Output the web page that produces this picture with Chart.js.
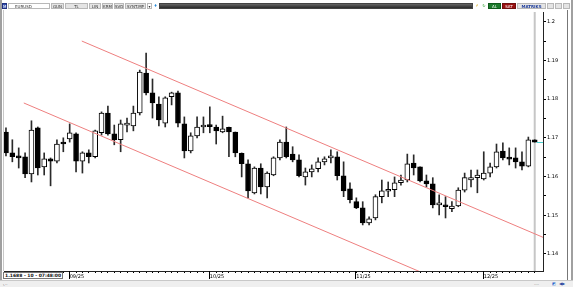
<!DOCTYPE html>
<html>
<head>
<meta charset="utf-8">
<script src="https://cdn.jsdelivr.net/npm/chart.js@4.4.1/dist/chart.umd.min.js"></script>
<style>
  html, body { margin: 0; padding: 0; }
  body { width: 573px; height: 287px; position: relative; overflow: hidden; background: #fff; font-family: 'DejaVu Sans', sans-serif; }
  #chart { position: absolute; left: 0; top: 0; }
  .frame { position: absolute; background: #a0a0a0; }
  #toolbar { position: absolute; left: 2px; top: 3px; width: 569px; height: 6px; display: flex; align-items: stretch; font-size: 4px; line-height: 6px; color: #333; }
  #toolbar div { box-sizing: border-box; border: 1px solid #b8b8b8; background: #e4e4e4; text-align: center; margin-right: 1px; }
  #toolbar .dark { flex: 1; background: linear-gradient(#666, #2a2a2a); border-color: #444; }
  #info { position: absolute; left: 3px; top: 272px; width: 60px; height: 7px; box-sizing: border-box; border: 1px solid #777; background: #fff; font-size: 4.5px; font-weight: bold; line-height: 5px; padding-left: 1px; color: #111; }
  #status { position: absolute; left: 0; top: 280px; width: 573px; height: 7px; background: #efefef; border-top: 1px solid #c8c8c8; box-sizing: border-box; font-size: 4px; line-height: 5px; color: #555; }
  #status span { position: absolute; top: 0; }
</style>
</head>
<body>
<canvas id="chart" width="573" height="287"></canvas>
<div id="toolbar">
  <div style="width:5px;background:#3050b0;border-color:#203080;color:#fff">M</div>
  <div style="width:42px;text-align:left;padding-left:6px;background:#fff">EURUSD</div>
  <div style="width:13px">GUN</div>
  <div style="width:23px">TL</div>
  <div style="width:12px">LIN</div>
  <div style="width:11px">KRM</div>
  <div style="width:10px">SVD</div>
  <div style="width:21px">SYNT.MP</div>
  <div style="width:5px;background:#fff">▾</div>
  <div style="width:5px;background:#fff;color:#2a8ad8;border:none">♦</div>
  <div class="dark"></div>
  <div style="width:6px;color:#d0a000;background:#fff;border:none">⚡</div>
  <div style="width:6px;color:#30a030;background:#fff;border:none">↻</div>
  <div style="width:13px;background:#1c7a2c;color:#fff;border-color:#0f5a1c">AL</div>
  <div style="width:14px;background:#9a1010;color:#fff;border-color:#701010">SAT</div>
  <div style="width:29px;color:#1a3a9a;font-weight:bold">MATRIKS</div>
  <div style="width:7px"></div>
  <div style="width:7px"></div>
  <div style="width:7px"></div>
</div>
<div class="frame" style="left:0;top:0;width:2px;height:287px"></div>
<div class="frame" style="left:571px;top:0;width:2px;height:287px"></div>
<div class="frame" style="left:3px;top:10px;width:1px;height:261px;background:#c8c8c8"></div>
<div class="frame" style="left:567px;top:10px;width:1px;height:270px;background:#777"></div>
<div id="info">1.1688 - 10 - 07:48:00</div>
<div id="status">
  <span style="left:3px">⌞..</span>
  <span style="left:534px">....</span>
  <span style="left:552px;color:#2a6ad0">◩</span>
  <span style="left:559px;color:#2a4aa0">◀▶</span>
</div>
<script>
'use strict';

const opens = [
  1.1715, 1.1661, 1.1651, 1.1651, 1.1607, 1.1726, 1.1625, 1.1646, 1.1640, 1.1687,
  1.1697, 1.1710, 1.1640, 1.1661, 1.1651, 1.1713, 1.1764, 1.1710, 1.1695, 1.1733,
  1.1731, 1.1764, 1.1867, 1.1816, 1.1787, 1.1738, 1.1806, 1.1816, 1.1736, 1.1666,
  1.1705, 1.1728, 1.1731, 1.1728, 1.1715, 1.1727, 1.1715, 1.1660, 1.1633, 1.1558,
  1.1622, 1.1573, 1.1604, 1.1648, 1.1689, 1.1658, 1.1643, 1.1599, 1.1612, 1.1620,
  1.1638, 1.1648, 1.1651, 1.1602, 1.1568, 1.1535, 1.1519, 1.1480, 1.1493, 1.1548,
  1.1562, 1.1566, 1.1584, 1.1591, 1.1635, 1.1625, 1.1589, 1.1581, 1.1527, 1.1527,
  1.1517, 1.1524, 1.1565, 1.1591, 1.1597, 1.1594, 1.1609, 1.1625, 1.1666, 1.1648,
  1.1648, 1.1638, 1.1627, 1.1695,
];
const highs = [
  1.1726, 1.1695, 1.1674, 1.1661, 1.1744, 1.1728, 1.1661, 1.1648, 1.1695, 1.1700,
  1.1736, 1.1713, 1.1664, 1.1669, 1.1720, 1.1767, 1.1782, 1.1733, 1.1746, 1.1751,
  1.1782, 1.1875, 1.1919, 1.1852, 1.1806, 1.1806, 1.1818, 1.1821, 1.1754, 1.1713,
  1.1754, 1.1754, 1.1780, 1.1733, 1.1756, 1.1728, 1.1715, 1.1661, 1.1643, 1.1625,
  1.1633, 1.1612, 1.1651, 1.1695, 1.1728, 1.1677, 1.1656, 1.1622, 1.1630, 1.1648,
  1.1651, 1.1669, 1.1664, 1.1638, 1.1584, 1.1545, 1.1535, 1.1496, 1.1553, 1.1591,
  1.1586, 1.1599, 1.1604, 1.1658, 1.1656, 1.1625, 1.1604, 1.1597, 1.1553, 1.1548,
  1.1535, 1.1571, 1.1609, 1.1617, 1.1617, 1.1664, 1.1635, 1.1684, 1.1687, 1.1674,
  1.1674, 1.1664, 1.1702, 1.1695,
];
const lows = [
  1.1653, 1.1638, 1.1622, 1.1597, 1.1586, 1.1604, 1.1604, 1.1576, 1.1635, 1.1664,
  1.1689, 1.1612, 1.1609, 1.1635, 1.1648, 1.1707, 1.1707, 1.1682, 1.1664, 1.1715,
  1.1718, 1.1759, 1.1811, 1.1751, 1.1731, 1.1728, 1.1785, 1.1728, 1.1648, 1.1661,
  1.1700, 1.1713, 1.1713, 1.1684, 1.1713, 1.1651, 1.1651, 1.1599, 1.1545, 1.1555,
  1.1555, 1.1545, 1.1602, 1.1643, 1.1648, 1.1638, 1.1599, 1.1578, 1.1599, 1.1612,
  1.1630, 1.1635, 1.1591, 1.1548, 1.1532, 1.1517, 1.1475, 1.1475, 1.1488, 1.1532,
  1.1548, 1.1548, 1.1578, 1.1586, 1.1604, 1.1586, 1.1573, 1.1519, 1.1501, 1.1493,
  1.1509, 1.1522, 1.1560, 1.1573, 1.1558, 1.1591, 1.1599, 1.1622, 1.1643, 1.1630,
  1.1622, 1.1617, 1.1625, 1.1689,
];
const closes = [
  1.1661, 1.1651, 1.1648, 1.1607, 1.1720, 1.1622, 1.1646, 1.1640, 1.1684, 1.1684,
  1.1713, 1.1640, 1.1661, 1.1651, 1.1718, 1.1764, 1.1710, 1.1695, 1.1736, 1.1736,
  1.1764, 1.1870, 1.1816, 1.1790, 1.1746, 1.1803, 1.1816, 1.1738, 1.1666, 1.1705,
  1.1728, 1.1733, 1.1729, 1.1718, 1.1723, 1.1715, 1.1661, 1.1633, 1.1563, 1.1622,
  1.1573, 1.1609, 1.1648, 1.1689, 1.1651, 1.1643, 1.1602, 1.1612, 1.1620, 1.1638,
  1.1646, 1.1653, 1.1602, 1.1563, 1.1540, 1.1519, 1.1480, 1.1491, 1.1548, 1.1563,
  1.1564, 1.1584, 1.1591, 1.1633, 1.1622, 1.1589, 1.1581, 1.1527, 1.1528, 1.1522,
  1.1524, 1.1565, 1.1597, 1.1597, 1.1604, 1.1609, 1.1625, 1.1664, 1.1648, 1.1645,
  1.1638, 1.1627, 1.1695, 1.1689,
];

const monthIndex = [10, 32, 55, 75];
const monthLabels = ['09/25', '10/25', '11/25', '12/25'];
const priceTicks = [1.14, 1.145, 1.15, 1.155, 1.16, 1.165, 1.17, 1.175, 1.18, 1.185, 1.19, 1.195, 1.2];

// channel lines (bar index, price)
const upperChannel = [{ x: 11.9, y: 1.195 }, { x: 84.3, y: 1.1443 }];
const lowerChannel = [{ x: 2.8, y: 1.179 }, { x: 70, y: 1.1319 }];
const lastPrice = 1.1689;

const extras = {
  id: 'extras',
  beforeDatasetsDraw(chart) {
    const { ctx, chartArea, scales } = chart;
    const xl = scales.x.getPixelForValue(opens.length - 1);
    ctx.save();
    ctx.strokeStyle = '#c6c6c6';
    ctx.lineWidth = 2;
    ctx.beginPath();
    ctx.moveTo(xl, chartArea.top);
    ctx.lineTo(xl, chartArea.bottom);
    ctx.stroke();
    ctx.restore();
  },
  afterDraw(chart) {
    const { ctx, chartArea, scales } = chart;
    ctx.save();
    ctx.strokeStyle = '#000';
    ctx.lineWidth = 1;
    monthIndex.forEach((i) => {
      const px = Math.round(scales.x.getPixelForValue(i)) - 0.5;
      ctx.beginPath();
      ctx.moveTo(px, chartArea.bottom);
      ctx.lineTo(px, chartArea.bottom + 8);
      ctx.stroke();
    });
    const py = Math.round(scales.y.getPixelForValue(lastPrice)) + 0.5;
    ctx.strokeStyle = '#48d0d0';
    ctx.beginPath();
    ctx.moveTo(scales.x.getPixelForValue(opens.length - 1) + 2, py);
    ctx.lineTo(chartArea.right, py);
    ctx.stroke();
    ctx.restore();
  },
};

const ctx = document.getElementById('chart');
new Chart(ctx, {
  type: 'bar',
  data: {
    datasets: [
      {
        type: 'line',
        data: upperChannel,
        borderColor: '#ee7f7f',
        borderWidth: 1,
        pointRadius: 0,
        order: 0,
      },
      {
        type: 'line',
        data: lowerChannel,
        borderColor: '#ee7f7f',
        borderWidth: 1,
        pointRadius: 0,
        order: 0,
      },
      {
        type: 'bar',
        data: opens.map((o, i) => ({ x: i, y: [o, closes[i]] })),
        backgroundColor: (c) => (opens[c.dataIndex] > closes[c.dataIndex] ? '#000' : '#fff'),
        borderColor: '#000',
        borderWidth: 1,
        borderSkipped: false,
        barThickness: 5,
        minBarLength: 2,
        grouped: false,
        order: 1,
      },
      {
        type: 'bar',
        data: lows.map((l, i) => ({ x: i, y: [l, highs[i]] })),
        backgroundColor: '#2a2a2a',
        barThickness: 1,
        grouped: false,
        order: 2,
      },
    ],
  },
  options: {
    responsive: false,
    devicePixelRatio: 1,
    animation: false,
    layout: { padding: { left: 4, right: 0, top: 12, bottom: 4 } },
    plugins: { legend: { display: false }, tooltip: { enabled: false } },
    scales: {
      x: {
        type: 'linear',
        min: -0.31,
        max: 84.3,
        offset: false,
        afterBuildTicks: (s) => {
          s.ticks = opens.map((_, i) => ({ value: i }));
        },
        afterFit: (s) => {
          s.height = 12;
        },
        grid: { drawOnChartArea: false, offset: false, tickLength: 2, color: '#000' },
        border: { color: '#222' },
        ticks: {
          autoSkip: false,
          maxRotation: 0,
          align: 'start',
          padding: 1,
          color: '#000',
          font: { size: 5, family: 'DejaVu Sans' },
          callback: (v) => {
            const k = monthIndex.indexOf(v);
            return k >= 0 ? monthLabels[k] : '';
          },
        },
      },
      y: {
        position: 'right',
        min: 1.1356,
        max: 1.2025,
        beginAtZero: false,
        afterBuildTicks: (s) => {
          s.ticks = priceTicks.map((v) => ({ value: v }));
        },
        afterFit: (s) => {
          s.width = 30;
        },
        grid: { drawOnChartArea: false, tickLength: 3, color: '#000' },
        border: { color: '#222' },
        ticks: {
          autoSkip: false,
          padding: 1,
          color: '#000',
          font: { size: 5, family: 'DejaVu Sans' },
          callback: (v) => (Math.round(v * 1000) % 10 === 0 ? String(+v.toFixed(2)) : ''),
        },
      },
    },
  },
  plugins: [extras],
});
</script>
</body>
</html>
